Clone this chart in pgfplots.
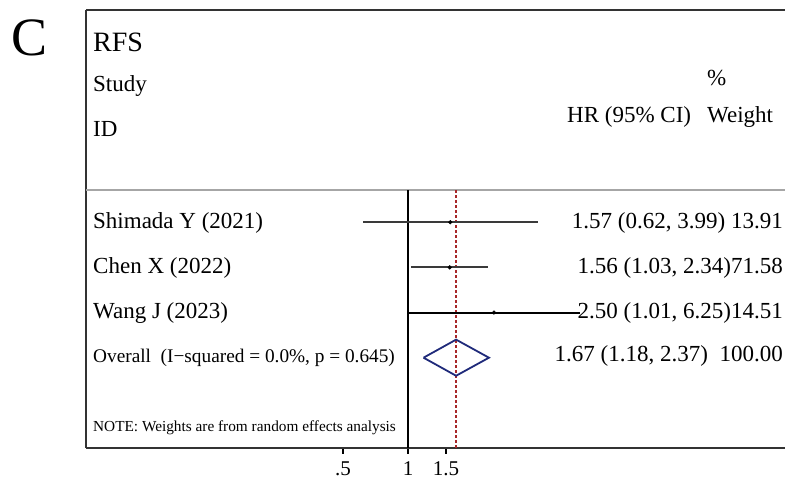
\documentclass[border=0pt]{standalone}
\usepackage{pgfplots}
\pgfplotsset{compat=1.18}
\usepackage{fontspec}
\setmainfont{Liberation Serif}
\definecolor{dmnavy}{HTML}{1F2A7A}
\definecolor{refred}{HTML}{A8282A}
\definecolor{cigray}{HTML}{3A3A3A}
\newcommand{\fs}[1]{\fontsize{#1bp}{#1bp}\selectfont}
\begin{document}
\begin{tikzpicture}
\useasboundingbox (0,0) rectangle (785bp,479bp);
\begin{axis}[
  at={(86bp,31bp)}, anchor=south west,
  scale only axis, width=699bp, height=438bp,
  xmode=log, xmin=0.03229, xmax=55.66, ymin=0, ymax=9.7,
  axis x line=bottom, axis y line=left,
  axis line style={-, line width=2bp, color=black!80},
  xtick={0.5,1,1.5}, xticklabels={.5,1,1.5},
  xminorticks=false, ytick=\empty,
  tick align=outside, major tick length=6bp,
  tick style={line width=1.5bp, black},
  xticklabel style={font=\fs{21}, yshift=-4bp},
  /pgf/number format/assume math mode=true,
  clip=false]
% frame top and separator
\draw[line width=2bp, black!80] (rel axis cs:0,1) -- (rel axis cs:1,1);
\draw[line width=1.5bp, black!35] (axis cs:0.03229,5.71) -- (axis cs:55.66,5.71);
% null line and overall line
\addplot[black, line width=2bp] coordinates {(1,0) (1,5.71)};
\addplot[refred, line width=1.5bp, dash pattern=on 3bp off 2bp] coordinates {(1.67,0) (1.67,5.71)};
% confidence intervals
\addplot[cigray, line width=1.8bp] coordinates {(0.62,5) (3.99,5)};
\addplot[cigray, line width=1.8bp] coordinates {(1.03,4) (2.34,4)};
\addplot[black, line width=2bp] coordinates {(1.01,3) (6.25,3)};
% point estimates
\addplot[only marks, mark=*, mark size=1.9bp, black] coordinates {(1.57,5) (1.56,4) (2.50,3)};
% pooled diamond
\addplot[dmnavy, line width=1.8bp, line join=miter] coordinates {(1.18,2) (1.67,2.4) (2.37,2) (1.67,1.6) (1.18,2)};
\end{axis}
\begin{scope}[x=1bp, y=-1bp, shift={(0,479bp)}]
\node[anchor=base west, inner sep=0, font=\fs{54}] at (11,56) {C};
\node[anchor=base west, inner sep=0, font=\fs{28}] at (93,52) {RFS};
\node[anchor=base west, inner sep=0, font=\fs{23}] at (93,92) {Study};
\node[anchor=base west, inner sep=0, font=\fs{23}] at (93,137) {ID};
\node[anchor=base west, inner sep=0, font=\fs{23}] at (707,86) {\%};
\node[anchor=base west, inner sep=0, font=\fs{23}] at (567,123) {HR (95\% CI)};
\node[anchor=base west, inner sep=0, font=\fs{23}] at (707,123) {Weight};
\node[anchor=base west, inner sep=0, font=\fs{23}] at (93,229) {Shimada Y (2021)};
\node[anchor=base west, inner sep=0, font=\fs{23}] at (93,274) {Chen X (2022)};
\node[anchor=base west, inner sep=0, font=\fs{23}] at (93,319) {Wang J (2023)};
\node[anchor=base west, inner sep=0, font=\fs{19.3}] at (93,363) {Overall\ \ (I−squared = 0.0\%, p = 0.645)};
\node[anchor=base west, inner sep=0, font=\fs{15.3}] at (93,432) {NOTE: Weights are from random effects analysis};
\node[anchor=base east, inner sep=0, font=\fs{23}] at (783,229) {1.57 (0.62, 3.99) 13.91};
\node[anchor=base east, inner sep=0, font=\fs{23}] at (783,274) {1.56 (1.03, 2.34)71.58};
\node[anchor=base east, inner sep=0, font=\fs{23}] at (783,319) {2.50 (1.01, 6.25)14.51};
\node[anchor=base east, inner sep=0, font=\fs{23}] at (783,362) {1.67 (1.18, 2.37)\ \ 100.00};
\end{scope}
\end{tikzpicture}
\end{document}
